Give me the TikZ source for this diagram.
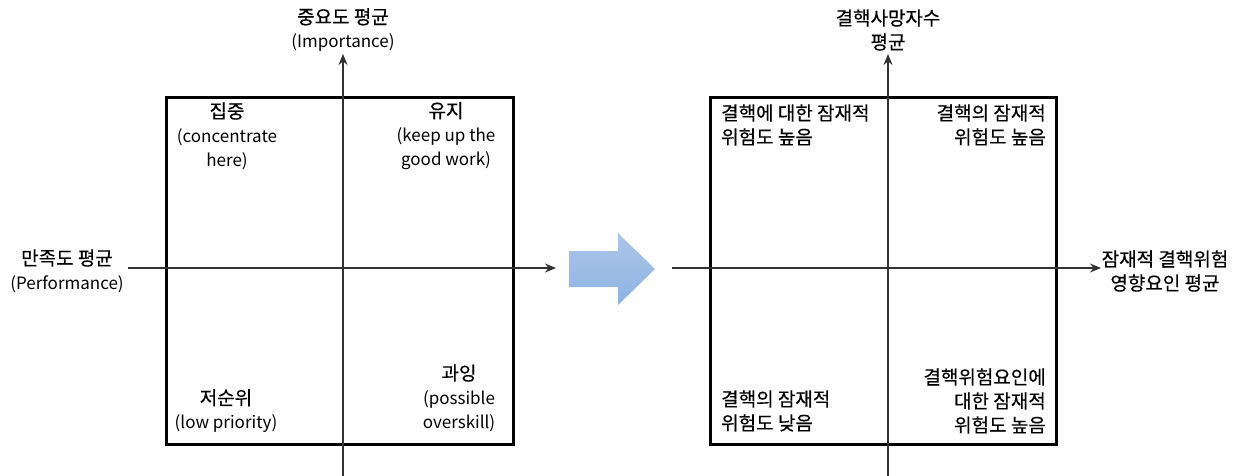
\documentclass[tikz,border=0pt]{standalone}
\usepackage{fontspec}
\setmainfont{Noto Sans CJK KR}
\newfontfamily\krfont[FakeBold=0.4]{Noto Sans CJK KR}
\newcommand{\kr}[1]{{\krfont\fontsize{19}{24}\selectfont #1}}
\usetikzlibrary{arrows.meta}
\begin{document}
\begin{tikzpicture}[x=1pt,y=-1pt,
  lbl/.style={inner sep=0pt,font=\fontsize{17}{24}\selectfont,text=black},
  axis/.style={draw=black!80,line width=1.1pt,-{Stealth[length=11pt,width=9pt]}},
  quad/.style={draw=black,line width=2.6pt}]
\useasboundingbox (0,0) rectangle (1236,476);
% ---- left panel ----
\node[quad,minimum width=347pt,minimum height=347pt,anchor=north west,inner sep=0pt] (boxL) at (165,96) {};
\coordinate (lyB) at (343,476);
\coordinate (lyT) at (343,54);
\coordinate (lxL) at (128,268);
\coordinate (lxR) at (556,268);
\draw[axis] (lyB) -- (lyT);
\draw[axis] (lxL) -- (lxR);
\node[lbl,align=center] (impL) at (343,30) {\kr{중요도 평균}\\(Importance)};
\node[lbl,align=center] (perL) at (67,271) {\kr{만족도 평균}\\(Performance)};
\node[lbl,align=center] (q1) at (227,136) {\kr{집중}\\(concentrate\\here)};
\node[lbl,align=center] (q2) at (446,136) {\kr{유지}\\(keep up the\\good work)};
\node[lbl,align=center] (q3) at (226,411) {\kr{저순위}\\(low priority)};
\node[lbl,align=center] (q4) at (459,398) {\kr{과잉}\\(possible\\overskill)};
% ---- big arrow ----
\shade[top color={rgb,255:red,172;green,198;blue,232},bottom color={rgb,255:red,140;green,178;blue,226}]
  (569,251) -- (618,251) -- (618,233) -- (655,269) -- (618,305) -- (618,287) -- (569,287) -- cycle;
% ---- right panel ----
\node[quad,minimum width=346pt,minimum height=347pt,anchor=north west,inner sep=0pt] (boxR) at (709,96) {};
\coordinate (ryB) at (888,476);
\coordinate (ryT) at (888,54);
\coordinate (rxL) at (672,268);
\coordinate (rxR) at (1101,268);
\draw[axis] (ryB) -- (ryT);
\draw[axis] (rxL) -- (rxR);
\node[lbl,align=center] (impR) at (888,30) {\kr{결핵사망자수}\\\kr{평균}};
\node[lbl,align=center] (perR) at (1165,271) {\kr{잠재적 결핵위험}\\\kr{영향요인 평균}};
\node[lbl,align=left,anchor=west] (r1) at (721,125) {\kr{결핵에 대한 잠재적}\\\kr{위험도 높음}};
\node[lbl,align=right,anchor=east] (r2) at (1046,125) {\kr{결핵의 잠재적}\\\kr{위험도 높음}};
\node[lbl,align=left,anchor=west] (r3) at (721,411) {\kr{결핵의 잠재적}\\\kr{위험도 낮음}};
\node[lbl,align=right,anchor=east] (r4) at (1046,401) {\kr{결핵위험요인에}\\\kr{대한 잠재적}\\\kr{위험도 높음}};
\end{tikzpicture}
\end{document}
